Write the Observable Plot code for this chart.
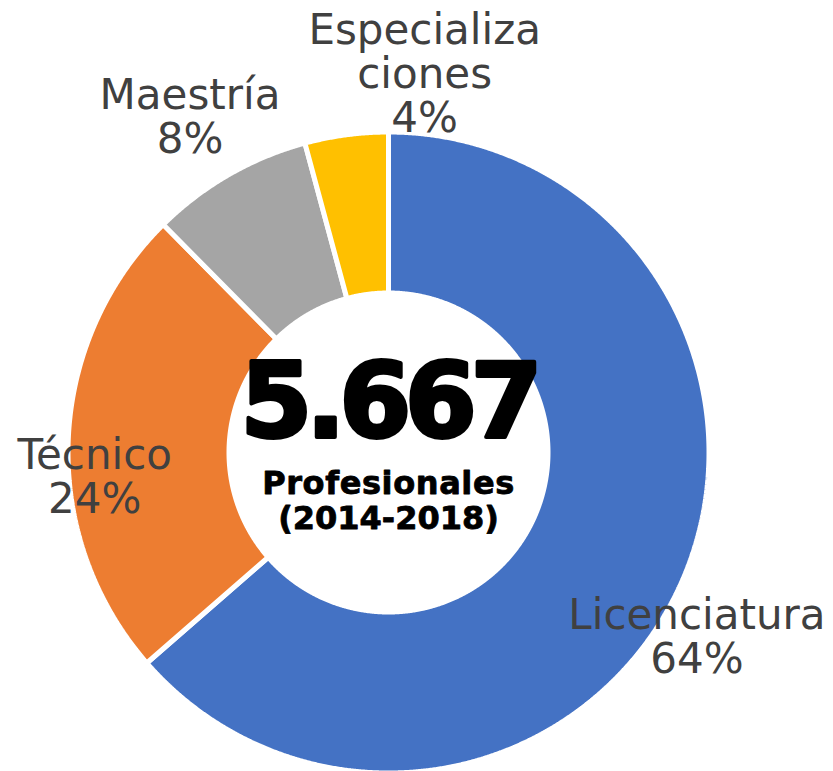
<!DOCTYPE html>
<html>
<head>
<meta charset="utf-8">
<script src="https://cdn.jsdelivr.net/npm/d3@7"></script>
<script src="https://cdn.jsdelivr.net/npm/@observablehq/plot@0.6"></script>
<style>
  html, body { margin: 0; padding: 0; background: #ffffff; }
  #chart svg { display: block; }
</style>
</head>
<body>
<div id="chart"></div>
<script>
// ---- Data ----
const categories = ["Licenciatura", "Técnico", "Maestría", "Especializaciones"];
const labelNames = ["Licenciatura", "Técnico", "Maestría", "Especializa\nciones"];
const counts = [3604, 1360, 465, 238];
const colors = ["#4472C4", "#ED7D31", "#A5A5A5", "#FFC000"];
const totalText = "5.667";
const centerLines = ["Profesionales", "(2014-2018)"];

// ---- Layout (not data) ----
const W = 833, H = 771;
const unit = 318;                 // pixels per domain unit
const cx = 388, cy = 452;         // pixel centre
const stroke = 5;
const rOuter = 1 + (stroke / 2) / unit;
const rInner = (162 - stroke / 2) / unit;
// label offsets (px) from the outer mid-angle point of each slice
const labelOffsets = {
  "Licenciatura": [19, 89],
  "Técnico": [24, 72],
  "Maestría": [-40, -24],
  "Especializaciones": [78, -5]
};

const table = categories.map((c, i) => ({cat: c, name: labelNames[i], count: counts[i]}));
const total = d3.sum(counts);
const arcs = d3.pie().sort(null).value(d => d.count).startAngle(0).endAngle(2 * Math.PI)(table);

// polygon vertices for each ring slice
const pts = [];
for (const a of arcs) {
  const n = Math.max(8, Math.ceil((a.endAngle - a.startAngle) / 0.004));
  for (let k = 0; k <= n; ++k) {
    const t = a.startAngle + (a.endAngle - a.startAngle) * k / n;
    pts.push({cat: a.data.cat, x: rOuter * Math.sin(t), y: rOuter * Math.cos(t)});
  }
  for (let k = n; k >= 0; --k) {
    const t = a.startAngle + (a.endAngle - a.startAngle) * k / n;
    pts.push({cat: a.data.cat, x: rInner * Math.sin(t), y: rInner * Math.cos(t)});
  }
}

const labelMarks = arcs.map(a => {
  const mid = (a.startAngle + a.endAngle) / 2;
  const [dx, dy] = labelOffsets[a.data.cat];
  const pct = Math.round(100 * a.data.count / total);
  return Plot.text([{x: Math.sin(mid), y: Math.cos(mid), t: a.data.name + "\n" + pct + "%"}], {
    x: "x", y: "y", text: "t", dx, dy,
    lineAnchor: "bottom", lineHeight: 1.05, textAnchor: "middle",
    fontSize: 42, fontFamily: "DejaVu Sans", fill: "#404040"
  });
});

const chart = Plot.plot({
  width: W, height: H,
  marginLeft: cx - unit, marginRight: W - (cx + unit),
  marginTop: cy - unit, marginBottom: H - (cy + unit),
  x: {domain: [-1, 1], axis: null},
  y: {domain: [-1, 1], axis: null},
  color: {domain: categories, range: colors},
  style: {background: "#ffffff", overflow: "visible"},
  marks: [
    Plot.line(pts, {x: "x", y: "y", z: "cat", fill: "cat", stroke: "#ffffff", strokeWidth: stroke,
      strokeLinejoin: "miter", curve: "linear-closed"}),
    ...labelMarks,
    Plot.text([{x: 0, y: 0, t: totalText}], {x: "x", y: "y", text: "t", dy: -16,
      lineAnchor: "bottom", fontSize: 103, fontWeight: "bold", fontFamily: "DejaVu Sans",
      fill: "#000000", stroke: "#000000", strokeWidth: 4}),
    Plot.text([{x: 0, y: 0, t: centerLines.join("\n")}], {x: "x", y: "y", text: "t", dy: 76,
      lineAnchor: "bottom", lineHeight: 1.094, fontSize: 32, fontWeight: "bold",
      fontFamily: "DejaVu Sans", fill: "#000000", stroke: "#000000", strokeWidth: 0.8})
  ]
});

document.getElementById("chart").appendChild(chart);

// fine letter-spacing tweaks
d3.select(chart).selectAll("text").each(function() {
  const s = this.textContent;
  if (s === totalText) d3.select(this).style("letter-spacing", "-6px");
});
d3.select(chart).selectAll("tspan").each(function() {
  const s = this.textContent;
  if (s === centerLines[0]) d3.select(this).style("letter-spacing", "0.6px");
});
</script>
</body>
</html>
